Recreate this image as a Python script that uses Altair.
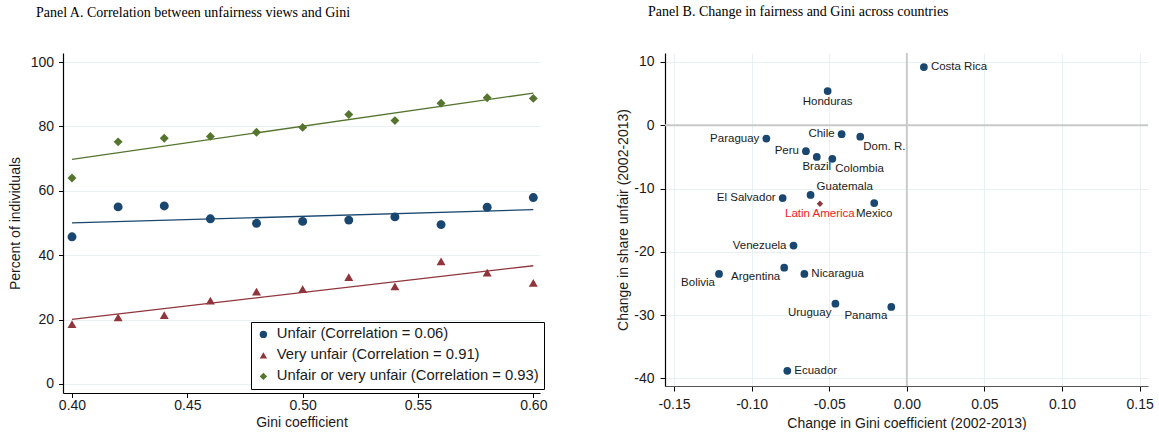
import altair as alt
import pandas as pd

# ---------------- Panel A data ----------------
gini = [0.40, 0.42, 0.44, 0.46, 0.48, 0.50, 0.52, 0.54, 0.56, 0.58, 0.60]
unfair = [45.7, 55.0, 55.3, 51.3, 49.9, 50.5, 50.9, 51.9, 49.5, 54.9, 57.9]
very_unfair = [18.6, 20.7, 21.4, 25.9, 28.7, 29.5, 33.2, 30.3, 38.1, 34.6, 31.4]
unfair_or_very = [64.0, 75.2, 76.3, 76.9, 78.2, 79.7, 83.7, 81.8, 87.2, 88.9, 88.7]
series_names = [
    "Unfair (Correlation = 0.06)",
    "Very unfair (Correlation = 0.91)",
    "Unfair or very unfair (Correlation = 0.93)",
]
series_colors = ["#1a476f", "#90353b", "#55752f"]
series_shapes = ["circle", "triangle-up", "diamond"]
a_x_ticks = [0.40, 0.45, 0.50, 0.55, 0.60]
a_y_ticks = [0, 20, 40, 60, 80, 100]

# ---------------- Panel B data ----------------
countries = ["Costa Rica", "Honduras", "Paraguay", "Chile", "Dom. R.", "Peru",
             "Brazil", "Colombia", "Guatemala", "El Salvador", "Mexico",
             "Venezuela", "Argentina", "Bolivia", "Nicaragua", "Uruguay",
             "Panama", "Ecuador"]
d_gini = [0.011, -0.051, -0.0905, -0.042, -0.030, -0.065,
          -0.058, -0.048, -0.062, -0.080, -0.021,
          -0.073, -0.079, -0.121, -0.066, -0.046,
          -0.010, -0.077]
d_unfair = [9.2, 5.4, -2.1, -1.4, -1.8, -4.1,
            -5.0, -5.3, -11.0, -11.5, -12.3,
            -19.0, -22.5, -23.5, -23.5, -28.2,
            -28.7, -38.8]
label_pos = ["r", "b", "l", "l", "br", "l",
             "b", "br", "tr", "l", "b",
             "l", "bl", "bl", "r", "bl",
             "bl", "r"]
region_name = ["Latin America"]
region_d_gini = [-0.056]
region_d_unfair = [-12.4]
b_x_ticks = [-0.15, -0.10, -0.05, 0.00, 0.05, 0.10, 0.15]
b_y_ticks = [-40, -30, -20, -10, 0, 10]

FONT = "Liberation Sans"
TXT = "#1a1a1a"
GRID = "#e8f0f1"

# ---------------- Panel A ----------------
rows = []
for name, vals in zip(series_names, [unfair, very_unfair, unfair_or_very]):
    for g, v in zip(gini, vals):
        rows.append({"gini": g, "pct": v, "series": name})
dfA = pd.DataFrame(rows)

xA = alt.X("gini:Q",
           scale=alt.Scale(domain=[0.3961, 0.6029], nice=False, zero=False),
           axis=alt.Axis(values=a_x_ticks, format=".2f", grid=False,
                         title="Gini coefficient", tickSize=4.5, labelPadding=1,
                         titlePadding=3, minExtent=19, maxExtent=19))
yA = alt.Y("pct:Q",
           scale=alt.Scale(domain=[-2.8, 102.8], nice=False, zero=False),
           axis=alt.Axis(values=a_y_ticks, grid=True, title="Percent of individuals",
                         tickSize=4.5, labelPadding=5, minExtent=32, maxExtent=32,
                         titlePadding=9))

pointsA = alt.Chart(dfA).mark_point(filled=True, size=80, opacity=1).encode(
    x=xA, y=yA,
    color=alt.Color("series:N",
                    scale=alt.Scale(domain=series_names, range=series_colors),
                    legend=alt.Legend(title=None, orient="none", legendX=188, legendY=269,
                                      strokeColor="black", fillColor="white",
                                      padding=5, labelFontSize=14.8, labelFont=FONT,
                                      labelColor=TXT, symbolSize=55, rowPadding=5,
                                      labelOffset=6, cornerRadius=0, labelLimit=400,
                                      symbolStrokeWidth=0)),
    shape=alt.Shape("series:N",
                    scale=alt.Scale(domain=series_names, range=series_shapes)),
)

fit_layers = []
for name, col in zip(series_names, series_colors):
    fit_layers.append(
        alt.Chart(dfA)
        .transform_filter(alt.datum.series == name)
        .transform_regression("gini", "pct", extent=[0.40, 0.60])
        .mark_line(color=col, strokeWidth=1.3)
        .encode(x=xA, y=yA)
    )

panelA = alt.layer(*fit_layers, pointsA).properties(
    width=477, height=340,
    title=alt.TitleParams("Panel A. Correlation between unfairness views and Gini",
                          dx=28, frame="bounds"),
)

# ---------------- Panel B ----------------
dfB = pd.DataFrame({"country": countries, "dgini": d_gini, "dunfair": d_unfair,
                    "pos": label_pos})
dfR = pd.DataFrame({"country": region_name, "dgini": region_d_gini,
                    "dunfair": region_d_unfair})

xB = alt.X("dgini:Q",
           scale=alt.Scale(domain=[-0.1558, 0.1554], nice=False, zero=False),
           axis=alt.Axis(values=b_x_ticks, grid=True,
                         labelExpr="datum.value < 0 ? '-' + format(-datum.value, '.2f') : format(datum.value, '.2f')",
                         title="Change in Gini coefficient (2002-2013)", tickSize=5,
                         labelPadding=6, minExtent=25, maxExtent=25, titlePadding=5,
                         domainColor="#555555"))
yB = alt.Y("dunfair:Q",
           scale=alt.Scale(domain=[-41.2, 11.42], nice=False, zero=False),
           axis=alt.Axis(values=b_y_ticks, grid=True,
                         labelExpr="datum.value < 0 ? '-' + format(-datum.value, 'd') : format(datum.value, 'd')",
                         title="Change in share unfair (2002-2013)", tickSize=5,
                         labelPadding=6, minExtent=30, maxExtent=30, titlePadding=5))

zero_v = alt.Chart(pd.DataFrame({"k": [0]})).mark_rule(color="#c8c8c8", strokeWidth=1.8).encode(
    x=alt.datum(0))
zero_h = alt.Chart(pd.DataFrame({"k": [0]})).mark_rule(color="#c8c8c8", strokeWidth=1.8).encode(
    y=alt.datum(0))

pointsB = alt.Chart(dfB).mark_circle(size=60, opacity=1, color="#1a476f").encode(x=xB, y=yB)
regionPt = alt.Chart(dfR).mark_point(shape="diamond", filled=True, size=40, opacity=1,
                                     color="#90353b").encode(x=xB, y=yB)

offsets = {
    "r": dict(align="left", dx=7, dy=0),
    "l": dict(align="right", dx=-7, dy=0),
    "b": dict(align="center", dx=0, dy=10.5),
    "br": dict(align="left", dx=3, dy=10),
    "bl": dict(align="right", dx=-4, dy=9.5),
    "tr": dict(align="left", dx=6, dy=-7.5),
}
label_layers = []
for p, o in offsets.items():
    label_layers.append(
        alt.Chart(dfB).transform_filter(alt.datum.pos == p)
        .mark_text(baseline="middle", font=FONT, fontSize=11.5, color=TXT, **o)
        .encode(x=xB, y=yB, text="country:N")
    )
regionLabel = alt.Chart(dfR).mark_text(baseline="middle", align="center", dy=10.5,
                                       font=FONT, fontSize=11.5, color="#ee2222").encode(
    x=xB, y=yB, text="country:N")

panelB = alt.layer(zero_v, zero_h, pointsB, regionPt, *label_layers, regionLabel).properties(
    width=483, height=333,
    title=alt.TitleParams("Panel B. Change in fairness and Gini across countries",
                          dx=32, frame="bounds"),
)

chart = alt.hconcat(panelA, panelB, spacing=69).properties(
    padding={"left": 8, "top": 5, "right": 0, "bottom": 0},
    background="white",
).configure_view(stroke=None).configure_axis(
    labelFont=FONT, titleFont=FONT, labelFontSize=14, titleFontSize=14,
    titleFontWeight="normal", labelColor=TXT, titleColor=TXT,
    domainColor="#000000", tickColor="#000000", gridColor=GRID, gridWidth=1,
    domainWidth=1.2,
).configure_title(
    font="Liberation Serif", fontSize=14, fontWeight="normal", anchor="start",
    offset=33, color="#000000",
)

chart.save("out.html", embed_options={"renderer": "svg", "actions": False})
